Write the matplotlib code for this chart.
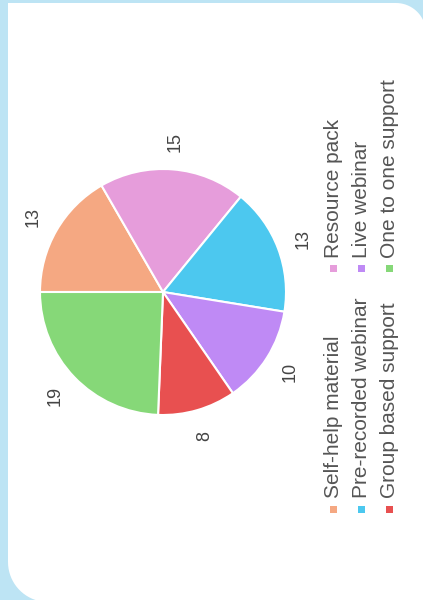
import numpy as np
import matplotlib.pyplot as plt
from matplotlib.patches import Polygon, Rectangle

# data
labels = ['Self-help material', 'Resource pack', 'Pre-recorded webinar',
          'Live webinar', 'Group based support', 'One to one support']
values = [13, 15, 13, 10, 8, 19]
colors = ['#f5a882', '#e69ddb', '#4cc8ef', '#bf8af5', '#e85050', '#86d878']

W, H = 423, 600
plt.rcParams['font.family'] = ['Liberation Sans', 'DejaVu Sans']

fig = plt.figure(figsize=(W / 100, H / 100), dpi=100)
fig.patch.set_facecolor('#bde4f4')


def fx(px):
    return px / W


def fy(py):
    return 1 - py / H


# white card outline (pixel coords, y down), rounded top-right and bottom-left
t = np.linspace(0, np.pi / 2, 20)
pts = [(8, 3)]
pts += [(396 + 30 * np.sin(a), 33 - 30 * np.cos(a)) for a in t]
pts += [(426, 602)]
pts += [(48 - 40 * np.sin(a), 562 + 40 * np.cos(a)) for a in t]
card = Polygon([(fx(x), fy(y)) for x, y in pts], closed=True,
               transform=fig.transFigure, facecolor='white',
               edgecolor='none', zorder=-2)
fig.add_artist(card)

# pie
cx, cy, r = 163, 292, 123
ax = fig.add_axes([fx(cx - r), fy(cy + r), 2 * r / W, 2 * r / H])
ax.set_zorder(2)
wedges, texts = ax.pie(values, labels=[str(v) for v in values], colors=colors,
                       startangle=180, counterclock=False, labeldistance=1.22,
                       wedgeprops=dict(edgecolor='white', linewidth=1.5),
                       textprops=dict(fontsize=13, color='#444444'))
for t in texts:
    t.set_rotation(90)
    t.set_ha('center')
    t.set_va('center')
ax.set_xlim(-1, 1)
ax.set_ylim(-1, 1)
ax.set_aspect('equal')
ax.axis('off')

# legend drawn as rotated text columns
col_x = [333, 361, 389]
row_y = [(509, 498), (268, 258)]
for i, (lab, col) in enumerate(zip(labels, colors)):
    c = i // 2
    row = i % 2
    sq_y, txt_y = row_y[row]
    x = col_x[c]
    fig.add_artist(Rectangle((fx(x - 3.5), fy(sq_y + 3.5)), 7 / W, 7 / H,
                             transform=fig.transFigure, facecolor=col,
                             edgecolor='none'))
    fig.text(fx(x), fy(txt_y), lab, rotation=90, rotation_mode='anchor',
             ha='left', va='center', fontsize=15, color='#555555')

fig.savefig('out.png', dpi=100)
